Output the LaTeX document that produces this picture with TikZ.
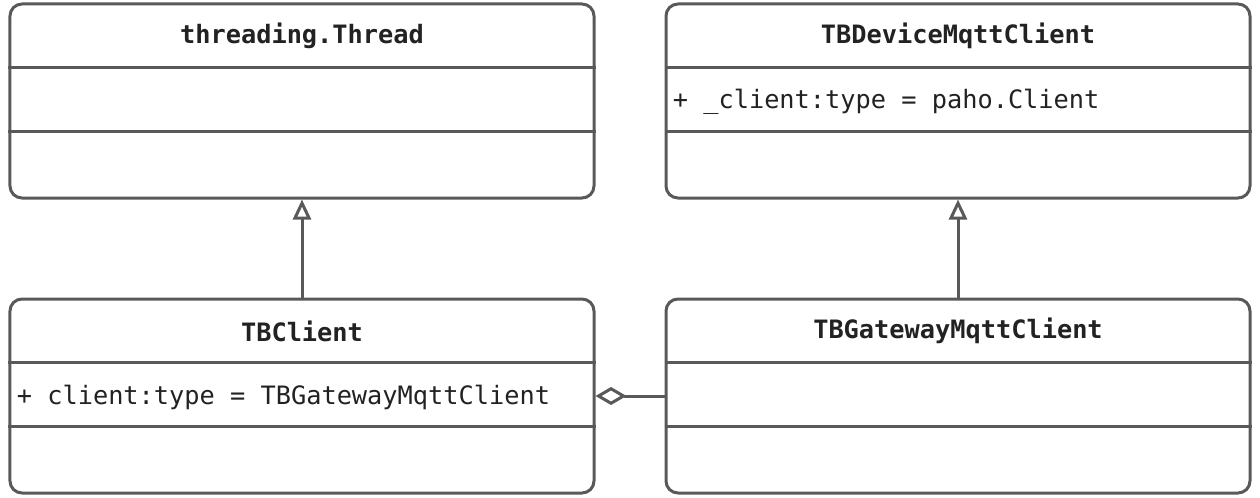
\documentclass[tikz,border=0pt]{standalone}
\usepackage{fontspec}
\setmonofont{DejaVu Sans Mono}
\usepackage{tikz}
\usetikzlibrary{positioning,arrows.meta}

\definecolor{umlgray}{HTML}{595959}
\definecolor{umltext}{HTML}{222222}

\tikzset{
    classbox/.style={draw=umlgray, line width=0.06cm, rounded corners=0.24cm,
        minimum width=11.68cm, minimum height=3.88cm, inner sep=0pt},
    divider/.style={draw=umlgray, line width=0.06cm},
    classname/.style={font=\ttfamily\bfseries\fontsize{14.4pt}{17pt}\selectfont, text=umltext, inner sep=0pt},
    attr/.style={font=\ttfamily\fontsize{14.4pt}{17pt}\selectfont, text=umltext, inner sep=0pt, anchor=west},
    inherit/.style={draw=umlgray, line width=0.06cm, -{Triangle[open, length=0.4cm, width=0.36cm]}},
    aggr/.style={draw=umlgray, line width=0.06cm, -{Diamond[open, length=0.62cm, width=0.36cm]}}
}

\begin{document}
\begin{tikzpicture}
    \useasboundingbox (0,0) rectangle (25.2,-9.96);

    \node[classbox] (thread) at (6.04,-2.02) {};
    \node[classbox] (device) at (19.16,-2.02) {};
    \node[classbox] (tbclient) at (6.04,-7.92) {};
    \node[classbox] (gateway) at (19.16,-7.92) {};

    \foreach \b in {thread, device, tbclient, gateway} {
        \draw[divider] ([yshift=-1.3cm]\b.north west) -- ([yshift=-1.3cm]\b.north east);
        \draw[divider] ([yshift=-2.58cm]\b.north west) -- ([yshift=-2.58cm]\b.north east);
    }

    \node[classname] (threadname) at ([yshift=-0.67cm]thread.north) {threading.Thread};
    \node[classname] (devicename) at ([yshift=-0.67cm]device.north) {TBDeviceMqttClient};
    \node[classname] (tbclientname) at ([yshift=-0.67cm]tbclient.north) {TBClient};
    \node[classname] (gatewayname) at ([yshift=-0.67cm]gateway.north) {TBGatewayMqttClient};

    \node[attr] (deviceattr) at ([xshift=0.16cm, yshift=-1.99cm]device.north west) {+ \_client:type = paho.Client};
    \node[attr] (tbclientattr) at ([xshift=0.16cm, yshift=-1.99cm]tbclient.north west) {+ client:type = TBGatewayMqttClient};

    \draw[inherit] (tbclient) -- (thread);
    \draw[inherit] (gateway) -- (device);
    \draw[aggr] (gateway) -- (tbclient);
\end{tikzpicture}
\end{document}
